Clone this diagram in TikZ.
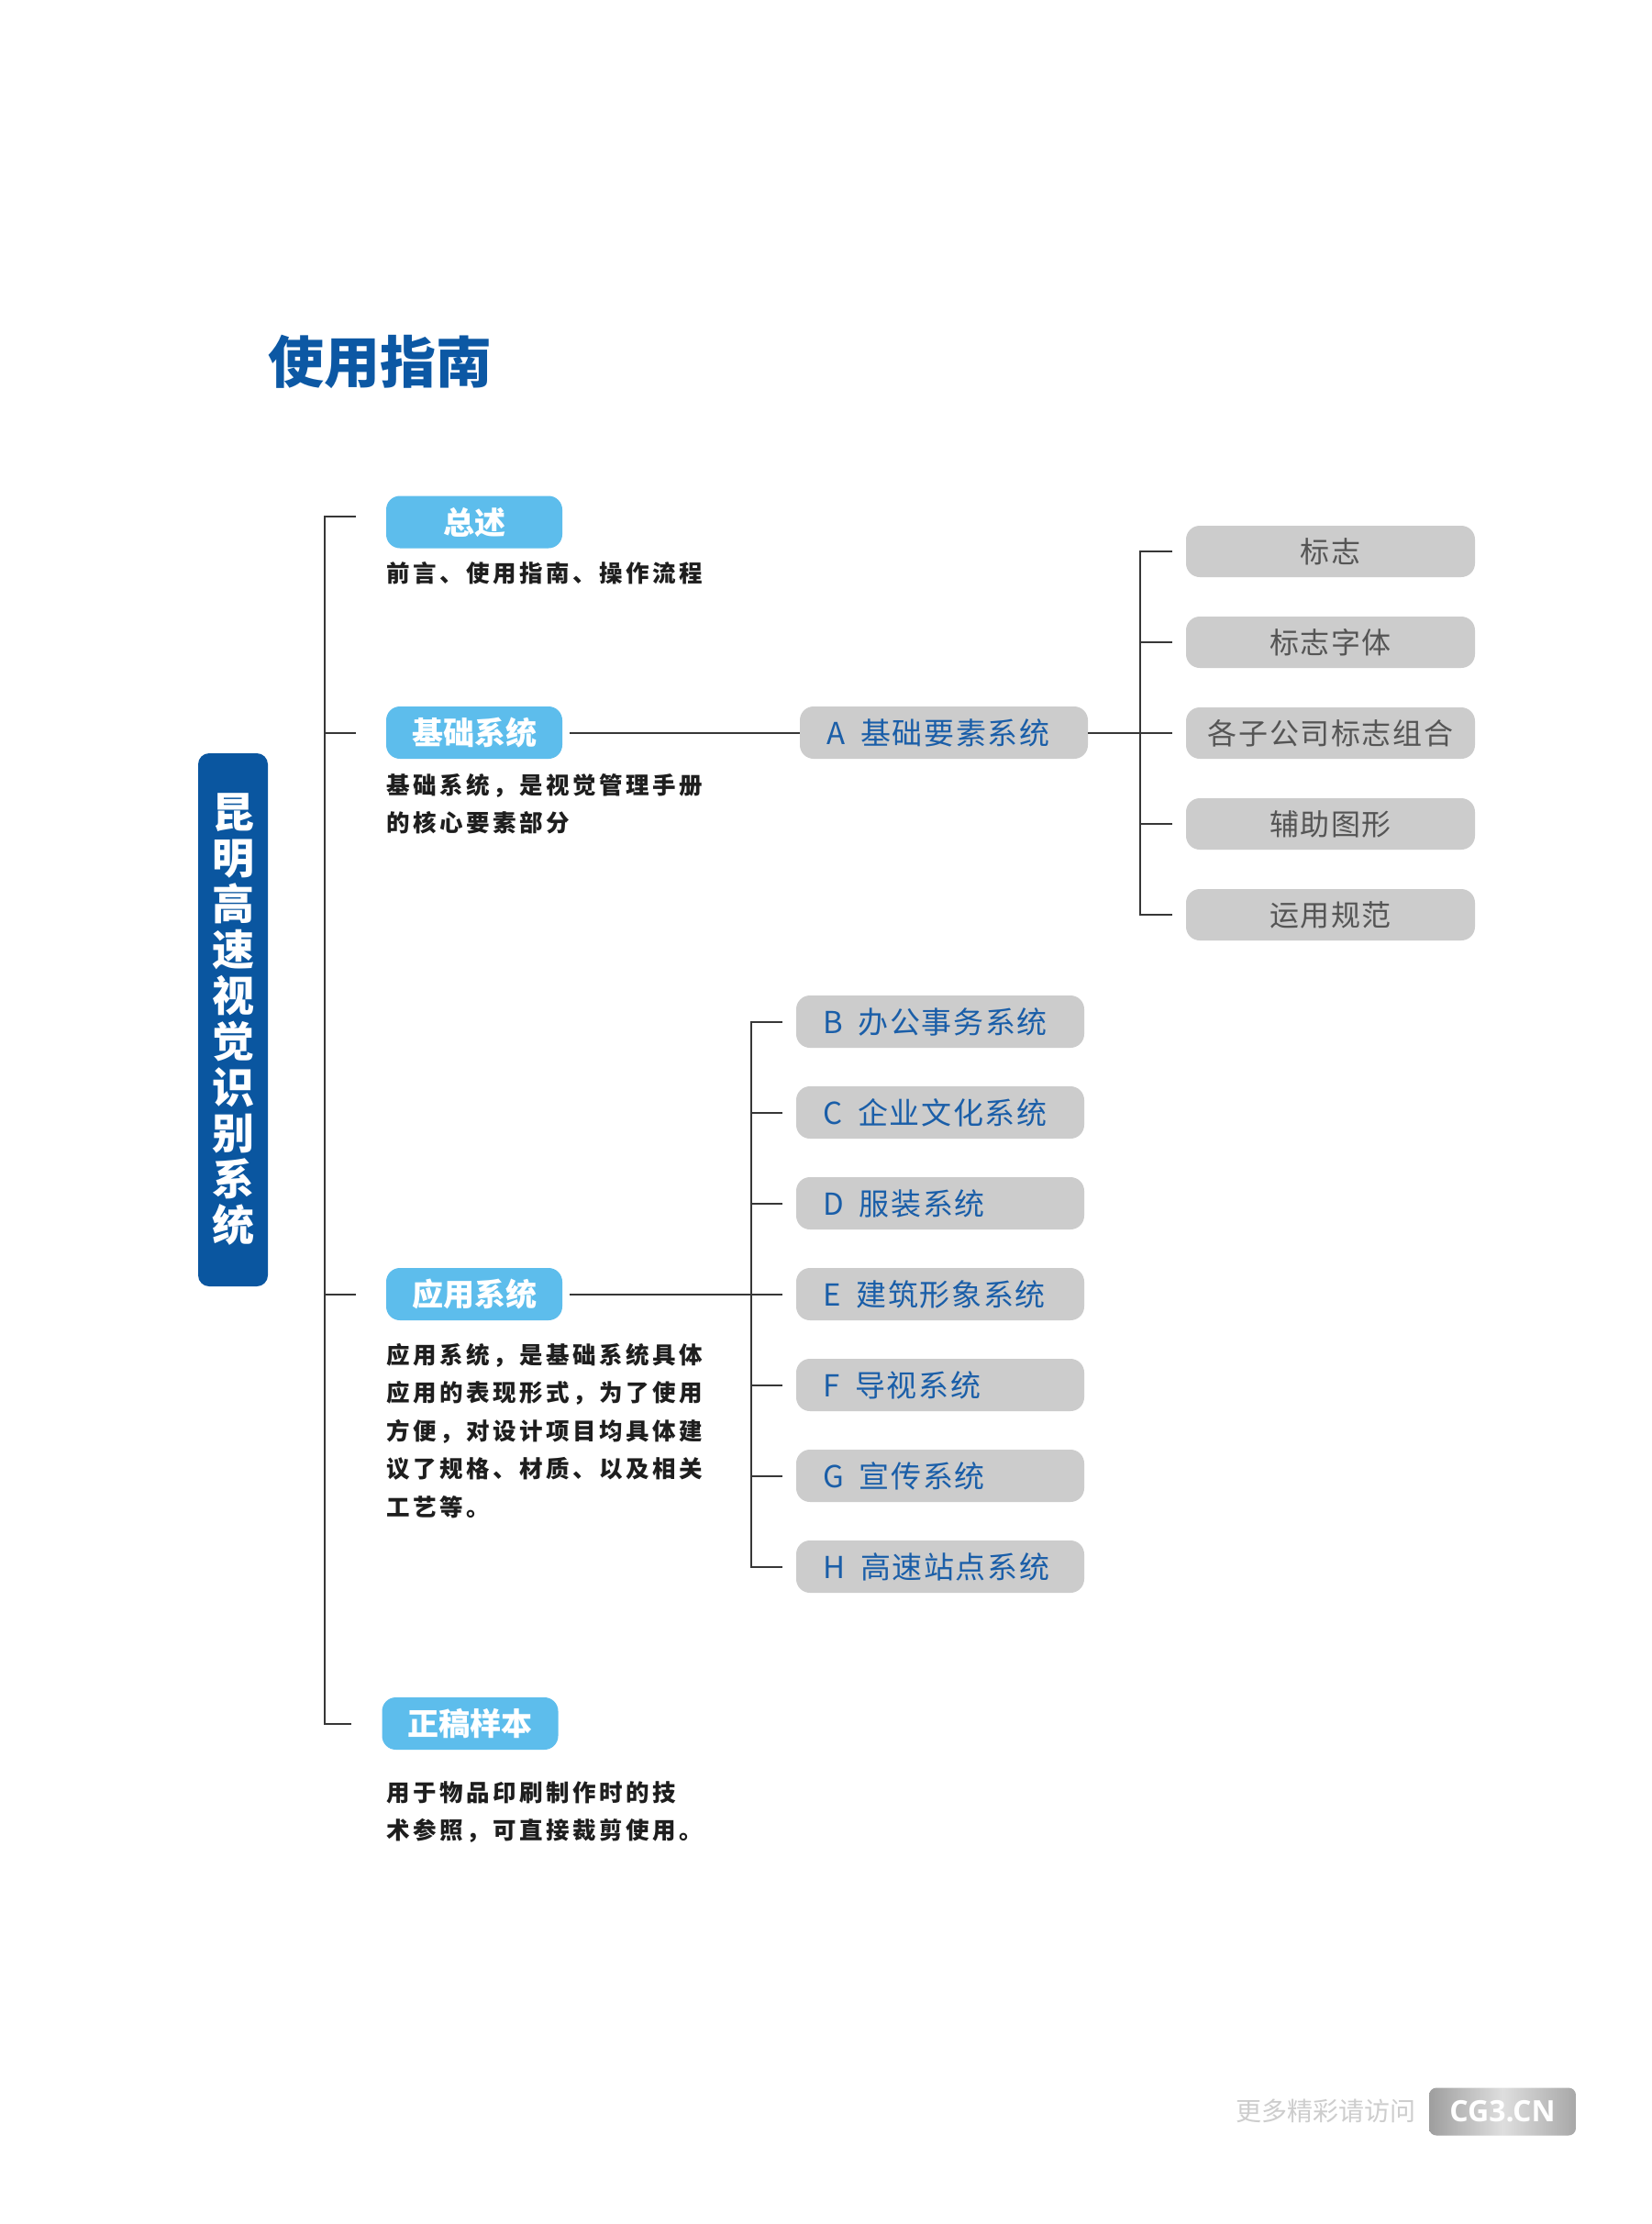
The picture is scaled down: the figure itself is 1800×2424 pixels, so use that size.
\documentclass[tikz,border=0pt]{standalone}
\usepackage{fontspec}
\setmainfont{Noto Sans CJK SC}
\newfontfamily\descfont[LetterSpace=14]{Noto Sans CJK SC}
\newfontfamily\itemfont[LetterSpace=5]{Noto Sans CJK SC}
\newfontfamily\wmfont{Open Sans}
\definecolor{titleblue}{RGB}{12,88,164}
\definecolor{mainblue}{RGB}{10,86,160}
\definecolor{lightblue}{RGB}{93,189,236}
\definecolor{boxgray}{RGB}{204,204,204}
\definecolor{itemblue}{RGB}{26,94,168}
\definecolor{itemgray}{RGB}{85,85,85}
\definecolor{linegray}{RGB}{55,55,55}
\definecolor{desctext}{RGB}{30,30,30}
\definecolor{wmdark}{RGB}{158,158,158}
\definecolor{wmlight}{RGB}{222,222,222}
\definecolor{wmtext}{RGB}{205,205,205}
\tikzset{
  catbox/.style={fill=lightblue, rounded corners=15pt, minimum width=192pt, minimum height=57pt, inner sep=0pt, text=white, font=\bfseries\fontsize{34}{38}\selectfont},
  itembox/.style={fill=boxgray, rounded corners=15pt, minimum height=57pt, text width=256pt, inner xsep=29pt, inner ysep=0pt, align=left, text=itemblue, font=\itemfont\fontsize{33}{38}\selectfont},
  subbox/.style={fill=boxgray, rounded corners=15pt, minimum width=315pt, minimum height=56pt, inner sep=0pt, text=itemgray, font=\itemfont\fontsize{32}{36}\selectfont},
  desc/.style={anchor=north west, inner sep=0pt, align=left, text=desctext, font=\descfont\bfseries\fontsize{25.5}{41.5}\selectfont},
  link/.style={draw=linegray, line width=2pt}
}
\begin{document}
\begin{tikzpicture}[x=1pt,y=-1pt]
\fill[white] (0,0) rectangle (1800,2424);
\useasboundingbox (0,0) rectangle (1800,2424);

% title
\node[anchor=west, inner sep=0pt, text=titleblue, font=\bfseries\fontsize{61}{70}\selectfont] (title) at (292,394) {使用指南};

% vertical main title
\node[fill=mainblue, rounded corners=12pt, minimum width=76pt, minimum height=581pt, inner sep=0pt, text=white, align=center, font=\bfseries\fontsize{46}{50}\selectfont] (vt) at (254,1111.5) {昆\\明\\高\\速\\视\\觉\\识\\别\\系\\统};

% category boxes
\node[catbox] (zs) at (517,569) {总述};
\node[catbox] (jc) at (517,798.5) {基础系统};
\node[catbox] (yy) at (517,1410.5) {应用系统};
\node[catbox] (zg) at (512.5,1878.5) {正稿样本};

% descriptions
\node[desc] (zsd) at (421,612) {前言、使用指南、操作流程};
\node[desc] (jcd) at (421,843) {基础系统，是视觉管理手册\\的核心要素部分};
\node[desc] (yyd) at (421,1464) {应用系统，是基础系统具体\\应用的表现形式，为了使用\\方便，对设计项目均具体建\\议了规格、材质、以及相关\\工艺等。};
\node[desc] (zgd) at (421,1941) {用于物品印刷制作时的技\\术参照，可直接裁剪使用。};

% main spine
\coordinate (s1) at (354,563);
\coordinate (s4) at (354,1878.5);
\draw[link] ([xshift=-33pt]zs.west |- s1) -- (s1) -- (s4) -- ([xshift=-33pt]zg.west |- s4);
\draw[link] (s1 |- jc.west) -- ([xshift=-33pt]jc.west);
\draw[link] (s1 |- yy.west) -- ([xshift=-33pt]yy.west);

% A and its sub items
\node[itembox] (A) at (1029,798.5) {A\hspace{17pt}基础要素系统};
\node[subbox] (r1) at (1450.5,601) {标志};
\node[subbox] (r2) at (1450.5,700) {标志字体};
\node[subbox] (r3) at (1450.5,799) {各子公司标志组合};
\node[subbox] (r4) at (1450.5,898) {辅助图形};
\node[subbox] (r5) at (1450.5,997) {运用规范};
\draw[link] ([xshift=8pt]jc.east) -- (A.west);
\coordinate (q1) at (1243,601);
\coordinate (q5) at (1243,997);
\draw[link] (A.east) -- (A.east -| q1);
\draw[link] ([xshift=-15pt]r1.west) -- (q1) -- (q5) -- ([xshift=-15pt]r5.west);
\draw[link] (q1 |- r2.west) -- ([xshift=-15pt]r2.west);
\draw[link] (q1 |- r3.west) -- ([xshift=-15pt]r3.west);
\draw[link] (q1 |- r4.west) -- ([xshift=-15pt]r4.west);

% application items
\node[itembox] (B) at (1025,1113.5) {B\hspace{17pt}办公事务系统};
\node[itembox] (C) at (1025,1212.5) {C\hspace{17pt}企业文化系统};
\node[itembox] (D) at (1025,1311.5) {D\hspace{17pt}服装系统};
\node[itembox] (E) at (1025,1410.5) {E\hspace{17pt}建筑形象系统};
\node[itembox] (F) at (1025,1509.5) {F\hspace{17pt}导视系统};
\node[itembox] (G) at (1025,1608.5) {G\hspace{17pt}宣传系统};
\node[itembox] (H) at (1025,1707.5) {H\hspace{17pt}高速站点系统};
\coordinate (p1) at (819,1113.5);
\coordinate (p7) at (819,1707.5);
\draw[link] ([xshift=8pt]yy.east) -- (yy.east -| p1);
\draw[link] ([xshift=-15pt]B.west) -- (p1) -- (p7) -- ([xshift=-15pt]H.west);
\foreach \n in {C,D,E,F,G}{
  \draw[link] (p1 |- \n.west) -- ([xshift=-15pt]\n.west);
}

% watermark
\node[anchor=west, inner sep=0pt, text=wmtext, font=\fontsize{28}{30}\selectfont] (wm) at (1347,2301) {更多精彩请访问};
\node[rounded corners=8pt, minimum width=160pt, minimum height=52pt, inner sep=0pt, left color=wmdark, right color=wmdark!90, middle color=wmlight, text=white, font=\wmfont\bfseries\fontsize{32}{34}\selectfont] (cg) at (1638,2301.5) {CG3.CN};
\end{tikzpicture}
\end{document}
